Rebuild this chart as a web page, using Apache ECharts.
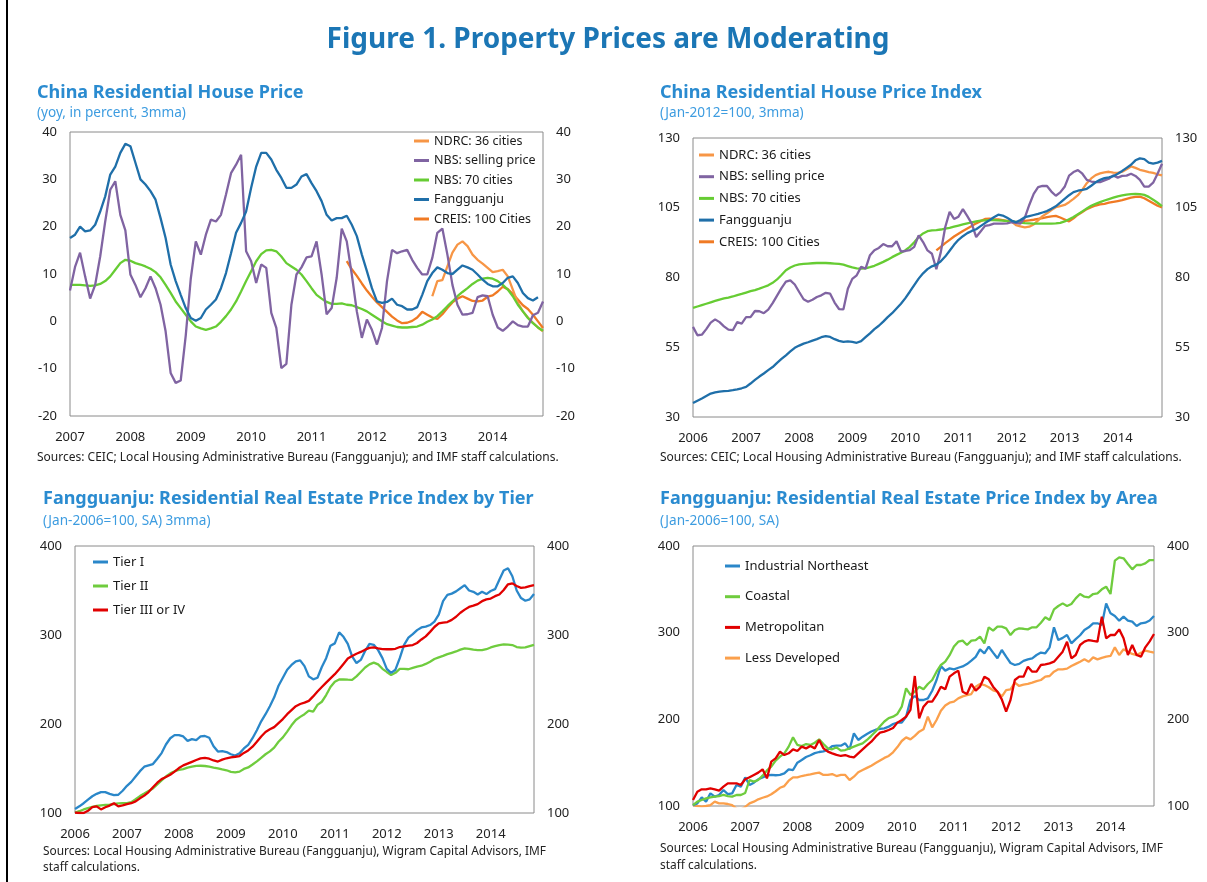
<!DOCTYPE html>
<html>
<head>
<meta charset="utf-8">
<title>Property Prices are Moderating</title>
<style>
  html, body { margin: 0; padding: 0; background: #fff; }
  #main { width: 1207px; height: 882px; }
</style>
</head>
<body>
<div id="main"></div>
<script src="https://cdn.jsdelivr.net/npm/echarts@6/dist/echarts.min.js"></script>
<script>
var myChart = echarts.init(document.getElementById('main'));
var font = "'Noto Sans', 'Open Sans', sans-serif";

function months(y0, n) {
    var out = [];
    for (var i = 0; i < n; i++) {
        var m = i % 12 + 1;
        out.push((y0 + Math.floor(i / 12)) + '-' + (m < 10 ? '0' : '') + m);
    }
    return out;
}
function pad(n, arr) {
    return new Array(n).fill(null).concat(arr);
}

// categories: monthly
var months07 = months(2007, 95);   // Jan 2007 - Nov 2014
var months06 = months(2006, 107);  // Jan 2006 - Nov 2014

// ---- panel 1: yoy, percent
var ndrcYoy = pad(72, [5.3,8.5,8.7,11.6,14.5,16.2,16.9,15.9,14.1,13,12.2,11.3,10.4,10.6,10.9,9.5,6.7,3.9,2.1,0.8,-0.3,-1.3,-2.1]);
var nbsSellYoy = [6.5,11.5,14.5,9.5,4.8,7.7,13.7,21.1,27.8,29.6,22.5,19.2,
    9.9,7.7,5.1,7,9.5,7,3.5,-2.1,-10.9,-13,-12.5,-3,
    9,16.9,14.1,18.3,21.5,21.1,22.5,26.8,31.3,33.1,35.2,14.8,
    12.7,8.1,12,11.3,1.8,-1.4,-9.9,-9,3.5,9.9,11.4,13.5,
    13.7,16.9,9.9,1.5,2.8,9.2,19.6,16.9,9.9,2.1,-3.5,0.4,
    -1.8,-4.9,-1.4,8.5,15.1,14.4,14.8,15.1,13,11.3,9.9,9.9,
    13.4,18.7,19.6,14.1,7.7,3.5,1.4,1.5,1.8,5.1,5.5,5.3,
    1.4,-1.3,-2,-1.1,0,-0.8,-1.1,-1.1,1.3,1.8,4.2];
var nbs70Yoy = [7.7,7.7,7.7,7.6,7.5,7.6,7.9,8.5,9.5,10.9,12.3,13,
    12.8,12.3,12,11.6,11.1,10.4,9.3,7.7,6,4.2,2.8,1.4,
    0,-1.1,-1.5,-1.8,-1.5,-1.1,-0.1,1.1,2.5,4.2,6.3,8.5,
    10.6,12.7,14.2,15,15.1,14.8,13.7,12.3,11.6,10.9,9.9,8.5,
    7,5.6,4.8,4.1,3.7,3.7,3.8,3.5,3.4,3,2.6,2.1,
    1.4,0.7,0,-0.6,-0.9,-1.2,-1.3,-1.3,-1.2,-1.1,-0.7,-0.1,
    0.4,1.1,2.1,3.2,4.2,5.3,6.2,7,7.9,8.6,9,9.2,
    9,8.5,7.7,6.7,5.3,3.5,2.1,0.7,-0.4,-1.3,-2];
var fangYoy = [17.6,18.3,20,19,19.2,20.4,23.2,26.4,31,32.7,35.6,37.5,
    37,33.5,30,28.9,27.5,25.7,21.8,17.6,12,8.5,5.6,2.8,
    0.7,0.1,0.7,2.5,3.5,4.6,7,10.2,14.4,18.7,20.8,23.2,
    28.2,32.7,35.6,35.6,34.2,32,30.3,28.2,28.2,28.9,30.6,31.1,
    29.2,27.5,25.4,22.5,21.3,21.8,21.8,22.3,20.4,18,14.1,10.6,
    7,4.2,3.9,4.1,4.8,3.5,3.2,2.5,2.5,3,5.6,8.5,
    10.2,11.4,10.9,10.2,10,10.9,11.8,11.4,10.9,9.9,8.8,7.9,
    7.4,7.4,8.1,9.2,9.5,8.1,6,4.9,4.4,5.1,null];
var creisYoy = pad(55, [12.7,11,9.6,8,6.5,5.2,4,3,2,1,0.2,-0.4,-0.3,0.1,0.8,2,1.4,0.8,0.5,1.5,
    2.8,4,4.8,5.3,4.8,4.3,4.2,4.4,5.2,5.5,6.3,7.3,6.8,5.8,4.6,3.4,2.6,1.4,0,-1.4]);

// ---- panel 2: index, Jan-2012=100
var ndrcIdx = pad(72, [100,98.8,98.3,98,98.2,99,100.5,102,103,104.2,105.2,105.6,106,107,108.2,109.5,111.5,113.8,
    115.5,116.7,117.3,117.7,117.9,117.6,117.5,117.9,118.8,119.8,119.3,118.6,118.2,117.8,117.5,117,116.6]);
var nbsSellIdx = [62.3,59.3,59.5,61.5,63.8,65,64,62.5,61.3,61.1,64,63.5,
    65.8,65.8,68,67.9,67.2,68.5,70.8,73.5,76.2,78.5,79,77.5,
    74.8,72.2,71.3,72,73,73.6,74.5,74.2,71,68.7,68.6,76,
    79.5,80.8,83.8,83.2,88,89.8,90.6,92,91.2,91.2,93,89.3,
    89.5,89.8,91,95.1,92.7,89.7,88.5,83,89,98,103.5,101,
    101.8,104.5,102,99.3,94.5,96.5,98.5,98.8,99.3,99.3,99.3,99.4,
    99.8,99.6,99.3,101.5,106,110,112.4,112.8,112.8,110.8,109.3,110.5,
    112.5,116.5,117.8,118.5,117.2,115,114.4,114.2,114.2,114.8,115.4,116.6,
    115.8,116.4,116.5,117.2,116.4,115,112.6,112.6,114,117.2,120.8];
var nbs70Idx = [69.1,69.6,70.1,70.6,71.1,71.6,72.1,72.5,72.8,73.2,73.7,74.1,
    74.6,75.1,75.5,76,76.6,77.2,78.1,79.3,80.9,82.6,83.6,84.3,
    84.7,84.9,85,85.1,85.2,85.2,85.2,85.1,85,84.9,84.6,84.1,
    83.6,83.3,83.2,83.3,83.7,84.2,84.9,85.6,86.4,87.3,88.1,88.9,
    89.8,91,92.6,94.5,95.8,96.6,96.9,97,97.2,97.5,97.8,98.2,
    98.6,99,99.4,99.8,100.1,100.4,100.5,100.6,100.6,100.5,100.4,100.2,
    100.1,99.9,99.7,99.5,99.4,99.3,99.3,99.3,99.3,99.3,99.4,99.6,
    100.1,100.9,101.7,102.7,103.7,104.7,105.7,106.4,107,107.6,108.1,108.6,
    109.1,109.4,109.7,109.9,110,109.9,109.6,108.9,107.9,106.8,105.6];
var fangIdx = [35,35.8,36.6,37.5,38.4,38.8,39.1,39.3,39.4,39.6,39.9,40.3,
    40.8,42,43.3,44.5,45.6,46.8,47.9,49.4,50.8,52.1,53.5,54.8,
    55.6,56.3,56.8,57.4,57.9,58.6,59,58.7,57.9,57.3,56.9,57.1,
    56.9,56.6,57.2,58.6,60,61.5,62.7,64.2,65.8,67.2,68.9,70.6,
    72.6,74.9,77.3,79.6,81.5,83,84,84.6,85.8,87.5,89.6,91.7,
    93.5,94.8,95.9,96.7,97.3,98.4,99.5,100.5,101.6,102.5,102.2,101.4,
    100.4,99.8,100.6,101.6,102,102.4,102.8,103.3,103.8,104.6,105.5,106.8,
    108.2,109.5,110.6,111.1,111.4,111.8,112.9,114.1,115,115.6,115.9,116.3,
    117.2,118.2,119.3,120.4,122,122.7,122.4,121.2,120.8,121.2,121.8];
var creisIdx = pad(55, [89.7,91,92.3,93.5,94.7,95.7,96.7,97.6,98.5,99.4,
    100.2,101,101.1,100.9,100.8,100.6,100.3,100,99.8,100,
    100.3,100.5,100.7,101,101.3,101.6,101.9,102.1,101.5,100.8,
    100.1,101.2,102.5,103.5,104.5,105.2,105.8,106.2,106.4,106.8,
    107.1,107.4,107.7,108.2,108.6,108.9,109,108.4,107.5,106.6,
    105.7,105.1]);

// ---- panel 3: by tier, Jan-2006=100
var tier1 = [104.5,107.5,111,115,118.8,121.5,123.5,123.5,121.5,120,120.5,125,
    130.5,135,141,147,152,153.5,155,161,167.3,177,184,187.5,
    187.5,186,181,183,182,186,186.5,184.5,175,169,169.5,168.5,
    166,164.5,167,172.5,176.6,184,193,203,211,220,230,243,
    252,261,266.3,270.5,271.5,265,253.5,250.2,252,264,274,288,
    290.6,303,298,290,276,268.5,272,282,290,289,283,274,
    262,257.5,261,274,289,297,301,305.5,308.5,309.5,311.2,315,
    323,338,345,346.5,349,352.5,356,350,348.5,345.5,348.5,346,
    349.5,351.5,362,372.5,375,366,350,341.5,338.5,340,346];
var tier2 = [100.5,102,104,105.5,107,108,108.6,109.1,109.5,110.1,110.8,111.2,
    111.2,112.2,115.5,119,121.8,124.8,127.6,132,136.5,141,144.5,147,
    148.4,149.3,151,152,153,153.1,152.8,152,151,150.1,149,148,
    146.3,145.6,146.5,149.5,151.2,154.5,158,162,166,169.2,173.5,180,
    185,191.5,198.5,204.5,208,211,215,214,221.5,225,232.5,241.5,
    247.5,250,250.2,249.8,249.5,253.5,258.5,263.5,267,269,267,262,
    258.5,255.1,257.5,262,262,261.5,263,264.5,265.5,267.5,270,273,
    274.9,276.5,278.5,280,281.5,283.5,285,284.5,283.5,283.1,283,284,
    286,287.5,288.7,289.5,289.2,288.7,286.5,285.7,286,287.5,289];
var tier3 = [100.5,100,100,102.5,106.5,107.5,104,106.5,108.3,111,107.5,108.5,
    110,111,113,116.5,119.5,123.5,129,134,138.1,140.4,143,146.5,
    150.5,153.5,155.5,157.5,159.5,161.3,162,161,159,157.8,160,161.5,
    162.5,163.2,164,167.5,170.3,174.5,180,186,191,194,196.5,201,
    205.5,211,215.5,220,222.5,224,226,231,236.5,241.5,246.5,251.3,
    256,261.5,267.5,273.5,276.5,279,281,283.5,285.5,286,285,284.2,
    284,284,284.5,286.5,287.3,288,288.7,291,295,298.5,303.5,309,
    313,314,314.5,317,320.5,325,328.5,331.5,333,334.7,338,340,
    341,343.6,345.5,350.5,357,358,355,353,353.5,355,356];

// ---- panel 4: by area, Jan-2006=100
var northeast = [101,103,110,105,114.6,110.8,112.7,118.5,113.8,114.6,124.2,122.3,
    133,124.2,126.9,130.8,133,135,135.8,135.5,136,137.7,142.3,141.5,
    150,153,156.5,158.5,161,162.3,163,165,169.2,169.6,169.6,172.3,
    165.4,183.8,176.2,180,183.1,186,188,189,189.6,191.5,194.6,196.2,
    196.2,203,222.3,226.9,222.3,222.3,224.2,233,245.4,261.5,256.2,258.8,
    257.7,259.5,261,263.8,267.7,272,280.8,276.2,283.8,277,270.4,280,
    272.3,265,262.7,264,267.5,269.2,270.4,274.2,277,276.2,283.1,306.2,
    291.5,294,297.3,287.7,292.5,297,303.1,306.2,310.8,310.8,308.8,333.8,
    322.3,319.2,313.8,318.5,313.8,312.7,307.7,310.8,311.5,314,319.2];
var coastal = [101,105,106.9,108.8,110,110.8,111.5,112.7,111.5,110.8,112.7,112.7,
    115,130,128.1,130,135,141,145.4,152.3,156.9,160.8,168.5,179.2,
    170.4,169.2,171.5,170.4,173,176.9,171.5,166.5,165.4,167.7,163.8,164.6,
    166.5,168.5,170.5,172.3,176.2,181,186,192,197.5,201.5,203.1,206.2,
    214.6,235.8,228.1,231.9,237.7,234.6,240.8,245.4,255,262.7,266.5,274,
    284,289.6,290.8,285.8,290.8,291.5,295.4,287.7,306.2,302.3,306.9,306.9,
    305,297.3,303.1,305,304.5,303.8,306.2,306.2,311.5,317.7,314.6,326.9,
    330.8,333.8,330.8,333.1,339.6,344.6,341.5,340.8,344.6,345.4,350,353.1,
    344.6,383.1,386.9,385.8,379.2,373.1,378.1,378.1,380,383.8,383.8];
var metro = [106.9,116.5,119.2,119.2,120.4,119.2,117.7,122.3,126.2,126.2,126.2,124.2,
    130.8,133.1,135.8,138.5,142.3,131.9,151.2,155,162.7,158.8,160.8,165.4,
    163.5,168.5,166.5,169.2,166.5,176.2,166.5,162.7,160.8,159,157.7,158.8,
    156.9,156.2,160.8,165.4,170,174.2,180,184.6,185.8,187.7,190,196.2,
    199.2,203.1,210.8,250,201.2,214.6,220.4,220.4,228.1,237.7,234.6,249.2,
    253.1,256.2,231.9,229.2,240.8,233.1,237.7,249.2,246.2,237.7,231.9,223.1,
    208.8,222.3,245.4,249.2,249.2,260.8,255,255,262.7,263.5,264.6,266.5,
    272.3,278.1,289.6,270.4,274.2,285.8,289.6,291.5,290.5,289.6,318.5,293.5,
    297.3,297.3,303.8,293.5,274.2,285.8,274.2,272.3,283.1,290,298.5];
var lessDev = [101,100,99.2,100,101,105,103,103,102.3,101,97,96,
    99,103,105,107.7,109.5,111,113.5,117,121,123,129.2,133.1,
    133.1,134.6,135.5,136.5,137.7,138.5,135.8,135.8,136.9,134.6,135.8,135.8,
    130,133.8,139,141.5,144,146.5,149.5,152.5,155.5,157.7,162,168,
    175,179.2,176.9,181,185.8,188.5,203.1,190.8,199.2,210,216,219.2,
    220.4,224.2,226.5,228,229.2,237.7,240.8,239.6,237,233.5,231.9,226.2,
    233.8,234.6,242.3,238.5,240,240.8,242.3,244,245.4,249.2,250,255,
    257.7,257.7,258.5,261.5,264,266.5,269.2,266.5,271.5,269.2,271,272.3,
    273.1,283.1,274.2,280.8,278.1,275.5,274.2,276.9,279.2,278,276.9];

// colours
var cNdrc = '#f79646', cNbsSell = '#8064a2', cNbs70 = '#66cc33', cFang = '#1f6fa9', cCreis = '#f07a24';
var cBlue = '#2a87c9', cGreen = '#6fcc3e', cRed = '#e10000', cLightOrange = '#fba04c';

function xAx(g, cats) {
    return {
        type: 'category', gridIndex: g, data: cats, boundaryGap: false,
        axisLine: { show: false }, axisTick: { show: false }, splitLine: { show: false },
        axisLabel: {
            interval: function (i, v) { return v.slice(5) === '01'; },
            formatter: function (v) { return v.slice(0, 4); },
            color: '#222', fontSize: 13, fontFamily: font, margin: 15
        }
    };
}
function yAx(g, min, max, step, pos) {
    return {
        type: 'value', gridIndex: g, position: pos, min: min, max: max, interval: step,
        axisLine: { show: false }, axisTick: { show: false }, splitLine: { show: false },
        axisLabel: { color: '#222', fontSize: 13, fontFamily: font, margin: 13 }
    };
}
function line(name, data, color, g) {
    return {
        name: name, type: 'line', xAxisIndex: g, yAxisIndex: g * 2, data: data,
        symbol: 'none', showSymbol: false, connectNulls: false,
        lineStyle: { width: 2.3, color: color }, itemStyle: { color: color }
    };
}
function legend(left, top, gap, size, names) {
    return {
        orient: 'vertical', left: left, top: top, itemWidth: 15, itemHeight: 3, icon: 'rect',
        itemGap: gap, padding: 0, selectedMode: false,
        textStyle: { fontSize: size, fontFamily: font, color: '#1a1a1a', lineHeight: 16 },
        data: names
    };
}
function txt(s, x, y, size, color, bold, align) {
    return {
        type: 'text', x: x, y: y, silent: true,
        style: {
            text: s, fill: color, textAlign: align || 'left', textVerticalAlign: 'middle',
            font: (bold ? 'bold ' : '') + size + 'px ' + font
        }
    };
}

var names12 = ['NDRC: 36 cities', 'NBS: selling price', 'NBS: 70 cities', 'Fangguanju', 'CREIS: 100 Cities'];
var gridStyle = { show: true, borderColor: '#8a8a8a', borderWidth: 1, backgroundColor: 'rgba(0,0,0,0)' };
var titleBlue = '#2a8bd0', subBlue = '#3d9ce0';
var srcTop = 'Sources: CEIC; Local Housing Administrative Bureau (Fangguanju); and IMF staff calculations.';
var srcBottom = 'Sources: Local Housing Administrative Bureau (Fangguanju), Wigram Capital Advisors, IMF';

var option = {
    animation: false,
    backgroundColor: '#fff',
    grid: [
        Object.assign({ left: 70, top: 132, width: 473, height: 284 }, gridStyle),
        Object.assign({ left: 693, top: 138, width: 469, height: 279 }, gridStyle),
        Object.assign({ left: 75, top: 546, width: 459, height: 267 }, gridStyle),
        Object.assign({ left: 693, top: 546, width: 461, height: 260 }, gridStyle)
    ],
    xAxis: [xAx(0, months07), xAx(1, months06), xAx(2, months06), xAx(3, months06)],
    yAxis: [
        yAx(0, -20, 40, 10, 'left'), yAx(0, -20, 40, 10, 'right'),
        yAx(1, 30, 130, 25, 'left'), yAx(1, 30, 130, 25, 'right'),
        yAx(2, 100, 400, 100, 'left'), yAx(2, 100, 400, 100, 'right'),
        yAx(3, 100, 400, 100, 'left'), yAx(3, 100, 400, 100, 'right')
    ],
    legend: [
        legend(414, 133, 3.5, 12.5, names12),
        legend(699, 147, 5.7, 13, names12),
        legend(93, 554, 8, 13, ['Tier I', 'Tier II', 'Tier III or IV']),
        legend(725, 558, 14.7, 13, ['Industrial Northeast', 'Coastal', 'Metropolitan', 'Less Developed'])
    ],
    series: [
        line('CREIS: 100 Cities', creisYoy, cCreis, 0),
        line('NDRC: 36 cities', ndrcYoy, cNdrc, 0),
        line('NBS: 70 cities', nbs70Yoy, cNbs70, 0),
        line('NBS: selling price', nbsSellYoy, cNbsSell, 0),
        line('Fangguanju', fangYoy, cFang, 0),

        line('CREIS: 100 Cities', creisIdx, cCreis, 1),
        line('NDRC: 36 cities', ndrcIdx, cNdrc, 1),
        line('NBS: 70 cities', nbs70Idx, cNbs70, 1),
        line('NBS: selling price', nbsSellIdx, cNbsSell, 1),
        line('Fangguanju', fangIdx, cFang, 1),

        line('Tier II', tier2, cGreen, 2),
        line('Tier I', tier1, cBlue, 2),
        line('Tier III or IV', tier3, cRed, 2),

        line('Less Developed', lessDev, cLightOrange, 3),
        line('Industrial Northeast', northeast, cBlue, 3),
        line('Coastal', coastal, cGreen, 3),
        line('Metropolitan', metro, cRed, 3)
    ],
    graphic: [
        { type: 'rect', shape: { x: 6, y: 0, width: 2, height: 882 }, style: { fill: '#000' }, silent: true },
        txt('Figure 1. Property Prices are Moderating', 608, 40, 28, '#1b76b5', true, 'center'),

        txt('China Residential House Price', 37, 93, 18, titleBlue, true),
        txt('(yoy, in percent, 3mma)', 37, 113, 13.6, subBlue, false),
        txt(srcTop, 37, 458, 12, '#222', false),

        txt('China Residential House Price Index', 660, 93, 18, titleBlue, true),
        txt('(Jan-2012=100, 3mma)', 660, 113, 13.6, subBlue, false),
        txt(srcTop, 660, 458, 12, '#222', false),

        txt('Fangguanju: Residential Real Estate Price Index by Tier', 43, 499, 18, titleBlue, true),
        txt('(Jan-2006=100, SA) 3mma)', 43, 521, 13.6, subBlue, false),
        txt(srcBottom, 43, 852, 11.9, '#222', false),
        txt('staff calculations.', 43, 868, 11.9, '#222', false),

        txt('Fangguanju: Residential Real Estate Price Index by Area', 660, 499, 18, titleBlue, true),
        txt('(Jan-2006=100, SA)', 660, 521, 13.6, subBlue, false),
        txt(srcBottom, 660, 849, 11.9, '#222', false),
        txt('staff calculations.', 660, 866, 11.9, '#222', false)
    ]
};

myChart.setOption(option);
</script>
</body>
</html>
